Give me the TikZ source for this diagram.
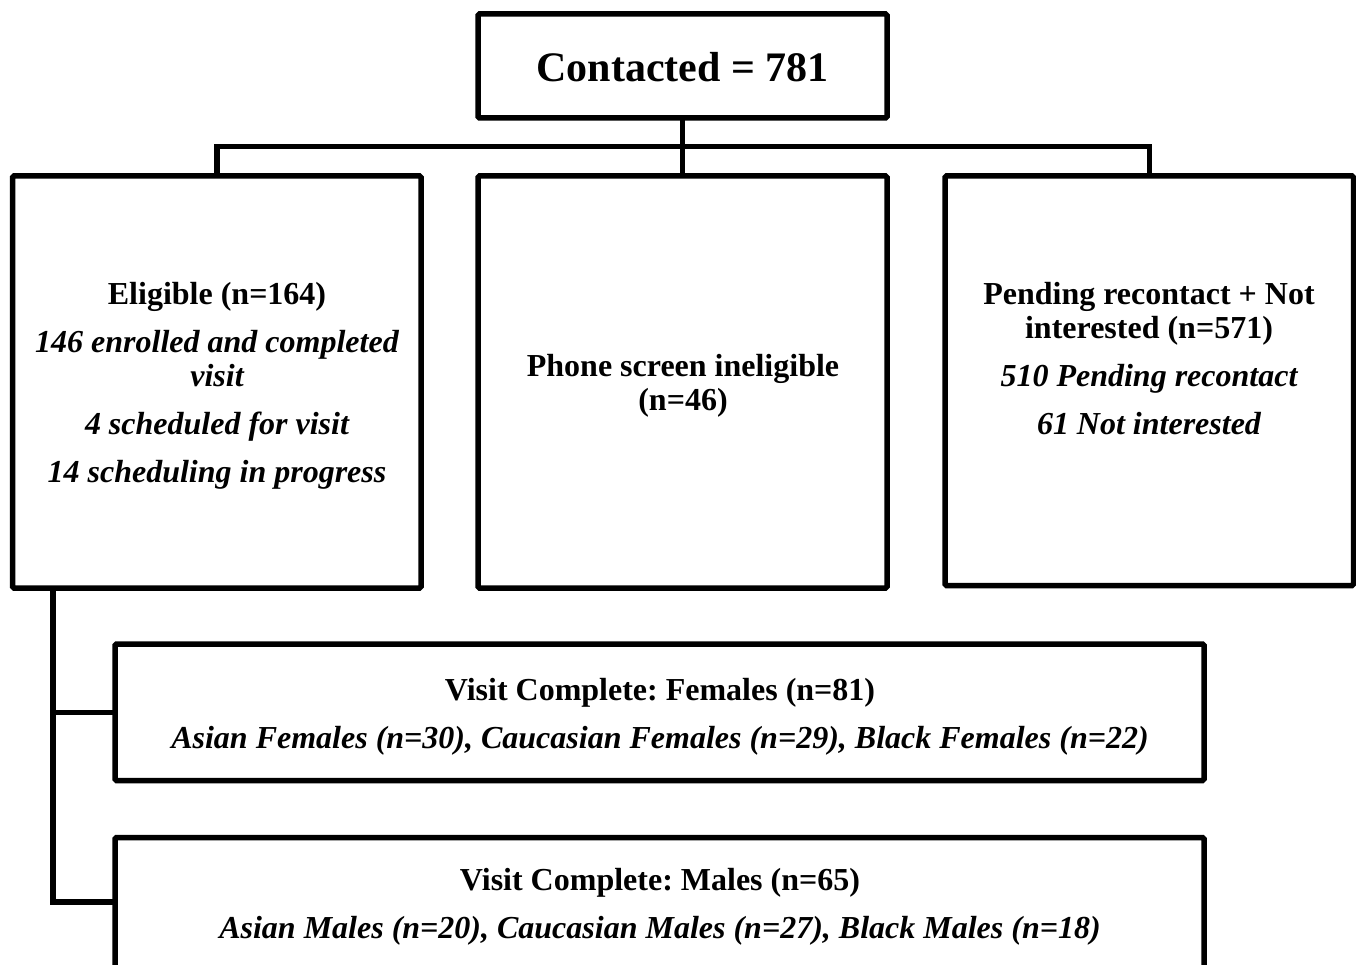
\documentclass[tikz,border=0pt]{standalone}
\usepackage{fontspec}
\setmainfont{Liberation Serif}
\frenchspacing
\begin{document}
\begin{tikzpicture}[x=1pt,y=-1pt,
  box/.style={draw=black,line width=5.5pt,rounded corners=1.5pt,inner sep=0pt,outer sep=0pt},
  conn/.style={draw=black,line width=5.5pt},
  body/.style={align=center,font=\fontsize{32}{34}\selectfont\bfseries,inner sep=0pt}]
\useasboundingbox (0,0) rectangle (1356,965);
\clip (0,0) rectangle (1356,965);
\fill[white] (0,0) rectangle (1356,965);
% boxes
\node[box,minimum width=409pt,minimum height=104pt] (top) at (682.5,66) {};
\node[box,minimum width=408.5pt,minimum height=412pt] (b1) at (216.75,382) {};
\node[box,minimum width=409pt,minimum height=412pt] (b2) at (682.5,382) {};
\node[box,minimum width=408.5pt,minimum height=409.5pt] (b3) at (1149.25,380.75) {};
\node[box,minimum width=1089pt,minimum height=136.5pt] (b4) at (659.5,712.25) {};
\node[box,minimum width=1089pt,minimum height=162.5pt] (b5) at (659.5,918.75) {};
% texts
\node[font=\fontsize{42}{48}\selectfont\bfseries,inner sep=0pt] (ttop) at (682.5,67) {Contacted = 781};
\node[body] (t1) at (217,386) {Eligible (n=164)\\[14pt]
  \itshape 146 enrolled and completed\\ \itshape visit\\[14pt]
  \itshape 4 scheduled for visit\\[14pt]
  \itshape 14 scheduling in progress};
\node[body] (t2) at (683,386) {Phone screen ineligible\\ (n=46)};
\node[body] (t3) at (1149,359) {Pending recontact + Not\\ interested (n=571)\\[14pt]
  \itshape 510 Pending recontact\\[14pt]
  \itshape 61 Not interested};
\node[body] (t4) at (660,717) {Visit Complete: Females (n=81)\\[14pt]
  \itshape Asian Females (n=30), Caucasian Females (n=29), Black Females (n=22)};
\node[body] (t5) at (660,907) {Visit Complete: Males (n=65)\\[14pt]
  \itshape Asian Males (n=20), Caucasian Males (n=27), Black Males (n=18)};
% connectors
\coordinate (j) at (682.5,146.5);
\coordinate (t) at (53,902);
\draw[conn] (top.south) -- (b2.north);
\draw[conn] (b1.north) |- (j) -| (b3.north);
\draw[conn] (b1.south -| t) -- (t) -- (t -| b5.west);
\draw[conn] (b4.west) -- (b4.west -| t);
\end{tikzpicture}
\end{document}
